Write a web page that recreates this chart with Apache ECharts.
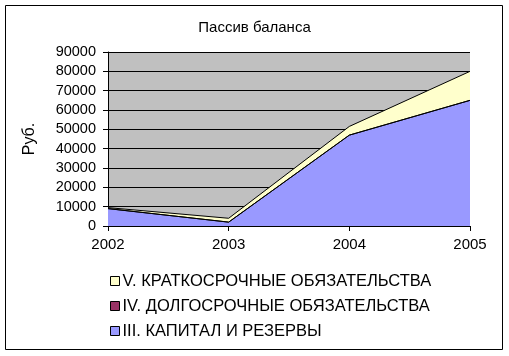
<!DOCTYPE html>
<html><head><meta charset="utf-8">
<script src="https://cdn.jsdelivr.net/npm/echarts@6/dist/echarts.min.js"></script>
<style>html,body{margin:0;padding:0;background:#fff}#c{width:509px;height:356px}</style>
</head><body><div id="c"></div>
<script>
var years = ['2002','2003','2004','2005'];
var capital = [9000, 2000, 47000, 65000];
var longTerm = [0, 0, 0, 0];
var shortTerm = [500, 2000, 4500, 15000];
var names = ['III. КАПИТАЛ И РЕЗЕРВЫ','IV. ДОЛГОСРОЧНЫЕ ОБЯЗАТЕЛЬСТВА','V. КРАТКОСРОЧНЫЕ ОБЯЗАТЕЛЬСТВА'];
var colors = ['#9999FF','#993366','#FFFFCC'];
var font = 'Liberation Sans, Arial, sans-serif';
var chart = echarts.init(document.getElementById('c'));
function mk(i, data){
  return {name:names[i], type:'line', stack:'a', data:data, symbol:'none',
    itemStyle:{color:colors[i], borderColor:'#000', borderWidth:1},
    lineStyle:{color:'#000', width:1}, areaStyle:{color:colors[i], opacity:1}, z: 2};
}
chart.setOption({
  animation:false,
  title:{text:'Пассив баланса', left:'center', top:15, textStyle:{fontFamily:font, fontSize:15, fontWeight:'normal', color:'#000'}},
  graphic:[{type:'rect', shape:{x:5.5,y:5.5,width:497,height:344}, style:{fill:null, stroke:'#000', lineWidth:1}, silent:true}],
  grid:{left:108, right:39, top:52, bottom:130, show:true, backgroundColor:'#C0C0C0', borderWidth:0},
  legend:{orient:'vertical', left:105, top:267, itemWidth:9, itemHeight:9, itemGap:7, icon:'rect',
    data:[names[2],names[1],names[0]],
    textStyle:{fontFamily:font, fontSize:16.5, color:'#000', lineHeight:18, padding:[0,0,0,-2]},
    itemStyle:{borderColor:'#000', borderWidth:1}},
  xAxis:{type:'category', data:years, boundaryGap:false,
    axisLine:{lineStyle:{color:'#000'}}, axisTick:{show:true, length:5, lineStyle:{color:'#000'}, alignWithLabel:true},
    axisLabel:{fontFamily:font, fontSize:15, color:'#000', margin:11}, splitLine:{show:false}},
  yAxis:{type:'value', min:0, max:90000, interval:10000, name:'Руб.', nameLocation:'middle', nameGap:70, nameRotate:90,
    nameTextStyle:{fontFamily:font, fontSize:16, color:'#000'},
    axisLine:{show:true, lineStyle:{color:'#000'}}, axisTick:{show:true, length:5, lineStyle:{color:'#000'}},
    axisLabel:{fontFamily:font, fontSize:14.5, color:'#000', margin:12, formatter:function(v){return String(v);}},
    splitLine:{show:true, lineStyle:{color:'#000', width:1}}},
  series:[mk(0,capital), mk(1,longTerm), mk(2,shortTerm)]
});
</script></body></html>
